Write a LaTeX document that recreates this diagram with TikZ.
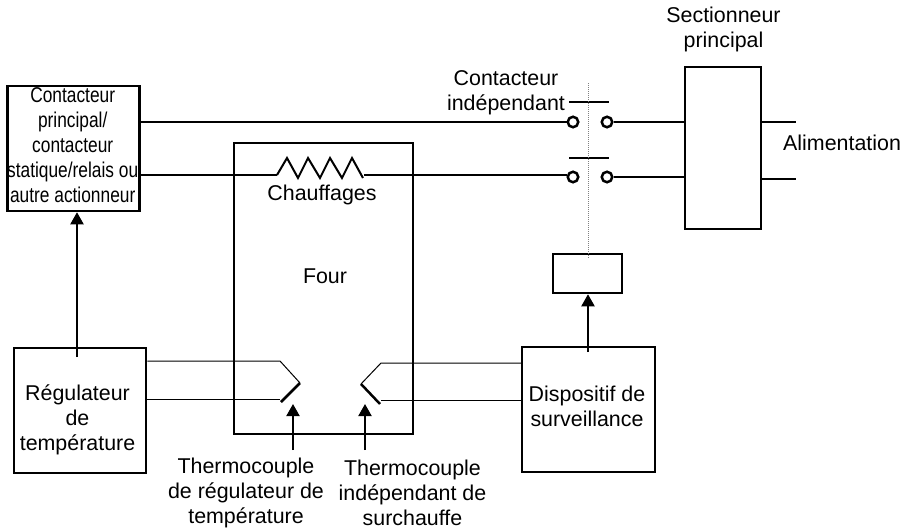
\documentclass[tikz,border=0pt]{standalone}
\usepackage{fontspec}
\setmainfont{Liberation Sans}
\usetikzlibrary{arrows.meta}
\tikzset{
    label text/.style={font=\fontsize{21.4}{25}\selectfont, align=center, inner sep=0pt},
    box/.style={draw, rectangle, line width=2.5pt, inner sep=0pt},
    terminal/.style={draw, circle, line width=2.5pt, minimum size=10.5pt, inner sep=0pt},
    wire/.style={line width=2.5pt},
    thin wire/.style={line width=1pt},
    arrow/.style={-{Triangle[length=12pt,width=13pt]}, line width=2pt}
}

\begin{document}
\begin{tikzpicture}[x=1pt, y=-1pt]
    \useasboundingbox (0,0) rectangle (910,530);

    % Boxes
    \node[box, minimum width=132pt, minimum height=125pt] (actuator) at (73.5,148.5) {};
    \node[box, minimum width=179pt, minimum height=291pt] (oven) at (323.5,288.5) {};
    \node[box, minimum width=76pt, minimum height=162pt] (isolator) at (723,148) {};
    \node[box, minimum width=69pt, minimum height=39pt] (coil) at (587.5,273.5) {};
    \node[box, minimum width=132pt, minimum height=125pt] (controller) at (80,410.5) {};
    \node[box, minimum width=133pt, minimum height=125pt] (monitor) at (588.5,409.5) {};

    % Contactor terminals
    \node[terminal] (t1a) at (573,122) {};
    \node[terminal] (t1b) at (607,122) {};
    \node[terminal] (t2a) at (573,177) {};
    \node[terminal] (t2b) at (607,177) {};
    \coordinate (bar1a) at (569,102);
    \coordinate (bar1b) at (609,102);
    \coordinate (bar2a) at (569,158);
    \coordinate (bar2b) at (609,158);
    \coordinate (linktop) at (588,83);
    \coordinate (linkend) at (588,258);

    % Supply wires
    \coordinate (supply1) at (796,122);
    \coordinate (supply2) at (796,179);
    \draw[wire] (actuator.east |- t1a) -- (t1a);
    \draw[wire] (t1b) -- (isolator.west |- t1b);
    \draw[wire] (t2b) -- (isolator.west |- t2b);
    \draw[wire] (isolator.east |- supply1) -- (supply1);
    \draw[wire] (isolator.east |- supply2) -- (supply2);
    \draw[line width=2pt] (bar1a) -- (bar1b);
    \draw[line width=2pt] (bar2a) -- (bar2b);
    \draw[thin wire, gray, densely dotted] (linktop) -- (linkend);

    % Heater
    \coordinate (heatl) at (277,175);
    \coordinate (heatr) at (363,178);
    \coordinate (heatout) at (364,175);
    \draw[wire] (actuator.east |- heatl) -- (heatl);
    \draw[line width=2pt] (heatl) -- (287,158) -- (298,178) -- (308,158) -- (320,178) -- (330,158) -- (342,178) -- (352,158) -- (heatr);
    \draw[wire] (heatout) -- (t2a.west |- heatout);

    % Left thermocouple
    \coordinate (tcl1) at (280,361);
    \coordinate (tcl2) at (300,383);
    \coordinate (tcl3) at (281,402);
    \coordinate (tcl4) at (280,399);
    \draw[thin wire] (controller.east |- tcl1) -- (tcl1) -- (tcl2);
    \draw[line width=2.5pt] (tcl2) -- (tcl3);
    \draw[thin wire] (controller.east |- tcl4) -- (tcl4);

    % Right thermocouple
    \coordinate (tcr1) at (381,363);
    \coordinate (tcr2) at (361,384);
    \coordinate (tcr3) at (380,404);
    \coordinate (tcr4) at (381,400);
    \draw[thin wire] (monitor.west |- tcr1) -- (tcr1) -- (tcr2);
    \draw[line width=2.5pt] (tcr2) -- (tcr3);
    \draw[thin wire] (monitor.west |- tcr4) -- (tcr4);

    % Arrows
    \coordinate (tail0) at (77,357);
    \coordinate (tail3) at (588,352);
    \coordinate (tail1) at (293,450);
    \coordinate (head1) at (293,404);
    \coordinate (tail2) at (365,450);
    \coordinate (head2) at (365,404);
    \draw[arrow] (tail0) -- (actuator.south -| tail0);
    \draw[arrow] (tail3) -- (coil.south -| tail3);
    \draw[arrow] (tail1) -- (head1);
    \draw[arrow] (tail2) -- (head2);

    % Labels
    \node[label text, transform shape, xscale=.81] (actuatorlabel) at (72.7,145) {Contacteur\\principal/\\contacteur\\statique/relais ou\\autre actionneur};
    \node[label text] (controllerlabel) at (77.5,420) {R\'egulateur\\de\\temp\'erature};
    \node[label text] (monitorlabel) at (587,406) {Dispositif de\\surveillance};
    \node[label text] (isolatorlabel) at (723.5,29.5) {Sectionneur\\principal};
    \node[label text] (contactorlabel) at (506,93) {Contacteur\\ind\'ependant};
    \node[label text, anchor=west] (supplylabel) at (783,143) {Alimentation};
    \node[label text] (heaterlabel) at (322,195) {Chauffages};
    \node[label text] (ovenlabel) at (325,276) {Four};
    \node[label text] (tclabel1) at (246,492.5) {Thermocouple\\de r\'egulateur de\\temp\'erature};
    \node[label text] (tclabel2) at (412.5,492.5) {Thermocouple\\ind\'ependant de\\surchauffe};
\end{tikzpicture}
\end{document}
